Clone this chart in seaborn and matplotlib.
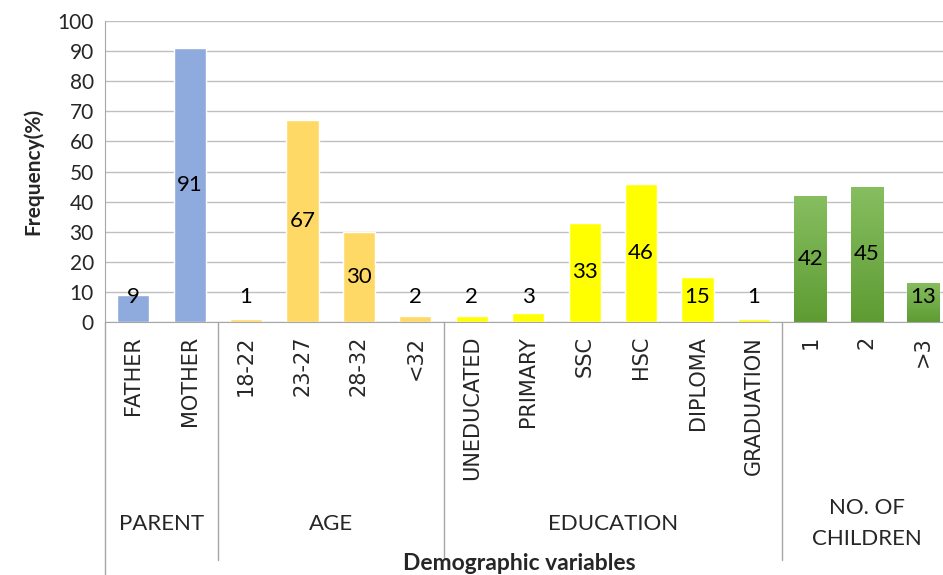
import numpy as np
import pandas as pd
import seaborn as sns
import matplotlib.pyplot as plt

# --- dados ---
categorias = ["FATHER", "MOTHER", "18-22", "23-27", "28-32", "<32",
              "UNEDUCATED", "PRIMARY", "SSC", "HSC", "DIPLOMA", "GRADUATION",
              "1", "2", ">3"]
valores = [9, 91, 1, 67, 30, 2, 2, 3, 33, 46, 15, 1, 42, 45, 13]
grupos = ["PARENT"] * 2 + ["AGE"] * 4 + ["EDUCATION"] * 6 + ["NO. OF\nCHILDREN"] * 3
nomes_grupos = ["PARENT", "AGE", "EDUCATION", "NO. OF\nCHILDREN"]
cores_grupos = ["#8FAADC", "#FFD966", "#FFFF00", "#70AD47"]

df = pd.DataFrame({"cat": categorias, "val": valores, "grupo": grupos})

sns.set_style("white")
plt.rcParams["font.family"] = ["DejaVu Sans"]
fonte_excel = ["Liberation Sans Narrow", "Lato", "DejaVu Sans"]

fig = plt.figure(figsize=(9.43, 5.75), dpi=100)
ax = fig.add_axes([105 / 943, 253 / 575, 838 / 943, 301 / 575])

sns.barplot(data=df, x="cat", y="val", hue="grupo", order=categorias,
            hue_order=nomes_grupos, palette=cores_grupos, dodge=False,
            width=0.57, legend=False, saturation=1, ax=ax)

# gradiente nas barras verdes
cmap_verde = sns.blend_palette(["#5E9C33", "#87BE60"], as_cmap=True)
for patch in ax.patches:
    fc = patch.get_facecolor()
    if abs(fc[0] - 0x70 / 255) < 0.02 and abs(fc[1] - 0xAD / 255) < 0.02:
        x0, y0 = patch.get_x(), patch.get_y()
        w, h = patch.get_width(), patch.get_height()
        grad = np.linspace(0, 1, 100).reshape(-1, 1)
        im = ax.imshow(grad, extent=[x0, x0 + w, y0, y0 + h], origin="lower",
                       aspect="auto", cmap=cmap_verde,
                       zorder=patch.get_zorder() + 0.1)
        im.set_clip_path(patch)

ax.set_xlim(-0.5, 14.35)
ax.set_ylim(0, 100)
ax.set_yticks(range(0, 101, 10))
ax.yaxis.grid(True, color="#BFBFBF", linewidth=1)
ax.set_axisbelow(True)
for s in ["top", "right"]:
    ax.spines[s].set_visible(False)
ax.spines["left"].set_color("#A6A6A6")
ax.spines["bottom"].set_color("#A6A6A6")
ax.tick_params(axis="y", length=0, labelsize=15, pad=8)
ax.tick_params(axis="x", length=0, labelsize=15, pad=10)
plt.setp(ax.get_yticklabels(), family=fonte_excel)
plt.setp(ax.get_xticklabels(), rotation=90, va="top", ha="center")
ax.set_xlabel("")
ax.set_ylabel("Frequency(%)", fontsize=15, fontweight="bold", labelpad=10,
              family=fonte_excel)

# rótulos dos dados
for i, v in enumerate(valores):
    ax.text(i, max(v / 2, 8.3), str(v), ha="center", va="center", fontsize=16,
            family=fonte_excel, color="black", zorder=5)

# linhas divisórias e nomes dos grupos
tamanhos = [grupos.count(g) for g in nomes_grupos]
limites = np.cumsum([0] + tamanhos) - 0.5
trans = ax.get_xaxis_transform()
ax.plot([-0.5, -0.5], [0, -0.85], transform=trans, color="#A6A6A6",
        linewidth=1, clip_on=False)
for b in limites[1:-1]:
    ax.plot([b, b], [0, -0.79], transform=trans, color="#A6A6A6",
            linewidth=1, clip_on=False)
for g, ini, fim in zip(nomes_grupos, limites[:-1], limites[1:]):
    ax.text((ini + fim) / 2, -0.67, g, transform=trans, ha="center",
            va="center", fontsize=16, family=fonte_excel, linespacing=1.7)

fig.text(519 / 943, 1 - 563 / 575, "Demographic variables", ha="center",
         va="center", fontsize=16.5, fontweight="bold", family=fonte_excel)

plt.savefig("out.png", dpi=100)
